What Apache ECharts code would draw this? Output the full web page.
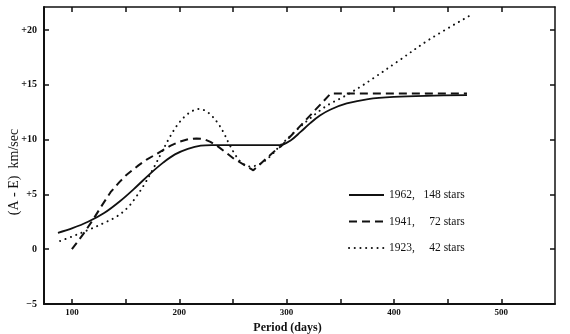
<!DOCTYPE html>
<html>
<head>
<meta charset="utf-8">
<script src="https://cdn.jsdelivr.net/npm/echarts@6/dist/echarts.min.js"></script>
<style>html,body{margin:0;padding:0;background:#fff}#c{width:570px;height:334px}</style>
</head>
<body>
<div id="c"></div>
<script>
// ---- data ----
const xTicks = [100, 150, 200, 250, 300, 350, 400, 450, 500];
const xLabels = [100, 200, 300, 400, 500];
const yTicks = [-5, 0, 5, 10, 15, 20];
const yLabels = ['\u22125', '0', '+5', '+10', '+15', '+20'];
const xTitle = 'Period (days)';
const yTitle = '(A - E)  km/sec';

const names = ['1962,   148 stars', '1941,     72 stars', '1923,     42 stars'];

const p1962 = [87, 100, 115, 130, 145, 160, 173, 185, 196, 208, 220, 230, 294, 304, 313, 322, 331, 341, 356, 376, 400, 430, 468];
const v1962 = [1.5, 1.9, 2.5, 3.3, 4.4, 5.7, 6.9, 7.9, 8.65, 9.15, 9.45, 9.5, 9.5, 9.95, 10.7, 11.5, 12.2, 12.75, 13.3, 13.7, 13.9, 14.0, 14.05];

const p1941 = [100, 110, 119, 128, 136, 144, 151, 162, 170, 179, 192, 200, 209, 216, 223, 229, 235, 251, 269, 291, 295, 341, 468];
const v1941 = [0, 1.3, 2.6, 4.0, 5.2, 6.1, 6.8, 7.65, 8.2, 8.7, 9.45, 9.8, 10.05, 10.1, 10.05, 9.8, 9.45, 8.25, 7.2, 9.15, 9.4, 14.2, 14.2];

const p1923 = [89, 100, 115, 130, 142, 152, 160, 168, 176, 184, 191, 198, 205, 212, 218, 224, 230, 236, 241, 246, 251, 256, 261, 266, 272, 279, 286, 293, 303, 313, 322, 331, 340, 350, 360, 370, 380, 403, 434, 474];
const v1923 = [0.75, 1.15, 1.75, 2.4, 3.0, 3.8, 4.8, 6.0, 7.4, 8.9, 10.2, 11.3, 12.1, 12.6, 12.8, 12.65, 12.2, 11.5, 10.7, 9.7, 8.8, 8.1, 7.7, 7.55, 7.65, 8.0, 8.6, 9.35, 10.3, 11.2, 11.95, 12.65, 13.25, 13.75, 14.3, 14.9, 15.55, 17.1, 19.2, 21.5];

const zip = (a, b) => a.map((x, i) => [x, b[i]]);
const SERIF = '"Liberation Serif","DejaVu Serif",serif';

const chart = echarts.init(document.getElementById('c'), null, {renderer: 'canvas'});

const baseX = {
  type: 'value', min: 74, max: 550,
  splitLine: {show: false},
  axisLine: {show: true, onZero: false, lineStyle: {color: '#111', width: 2}},
  axisTick: {show: true, inside: true, length: 5, customValues: xTicks, lineStyle: {color: '#111', width: 1.5}},
};
const baseY = {
  type: 'value', min: -5, max: 22.1,
  splitLine: {show: false},
  axisLine: {show: true, onZero: false, lineStyle: {color: '#111', width: 2}},
  axisTick: {show: true, inside: true, length: 5, customValues: yTicks, lineStyle: {color: '#111', width: 1.5}},
};

chart.setOption({
  animation: false,
  backgroundColor: '#fff',
  grid: {left: 44, right: 15, top: 7, bottom: 30, containLabel: false, outerBoundsMode: 'none'},
  legend: {
    orient: 'vertical', left: 343, top: 184,
    itemWidth: 35, itemHeight: 14, itemGap: 14.5,
    data: names,
    itemStyle: {opacity: 0},
    textStyle: {fontFamily: SERIF, fontSize: 11.5, color: '#111'}
  },
  graphic: [{
    type: 'text', x: 14, y: 172, rotation: Math.PI / 2,
    style: {text: yTitle, fontFamily: SERIF, fontSize: 14, fill: '#111', align: 'center', verticalAlign: 'middle'}
  }],
  xAxis: [
    Object.assign({}, baseX, {
      position: 'bottom',
      name: xTitle, nameLocation: 'middle', nameGap: 17,
      nameTextStyle: {fontFamily: SERIF, fontSize: 12, color: '#111', fontWeight: 'bold', padding: [0, 24, 0, 0]},
      axisLabel: {show: true, customValues: xLabels, margin: 4, fontFamily: SERIF, fontSize: 9, fontWeight: 'bold', color: '#111'}
    }),
    Object.assign({}, baseX, {
      position: 'top',
      axisLine: {show: true, onZero: false, lineStyle: {color: '#111', width: 1.5}},
      axisLabel: {show: false}
    })
  ],
  yAxis: [
    Object.assign({}, baseY, {
      position: 'left',
      axisLabel: {show: true, customValues: yTicks, margin: 7, fontFamily: SERIF, fontSize: 10, fontWeight: 'bold', color: '#111',
        formatter: v => yLabels[yTicks.indexOf(v)]}
    }),
    Object.assign({}, baseY, {
      position: 'right',
      axisLine: {show: true, onZero: false, lineStyle: {color: '#111', width: 1.5}},
      axisLabel: {show: false}
    })
  ],
  series: [
    {name: names[0], type: 'line', data: zip(p1962, v1962), showSymbol: false, symbol: 'none',
      smooth: 0.35,
      lineStyle: {color: '#111', width: 1.8, type: 'solid'}, itemStyle: {color: '#111'}},
    {name: names[1], type: 'line', data: zip(p1941, v1941), showSymbol: false, symbol: 'none',
      smooth: false,
      lineStyle: {color: '#111', width: 2, type: [8, 5]}, itemStyle: {color: '#111'}},
    {name: names[2], type: 'line', data: zip(p1923, v1923), showSymbol: false, symbol: 'none',
      smooth: 0.35,
      lineStyle: {color: '#111', width: 2, type: [0.1, 5.6], cap: 'round'}, itemStyle: {color: '#111'}}
  ]
});
</script>
</body>
</html>
